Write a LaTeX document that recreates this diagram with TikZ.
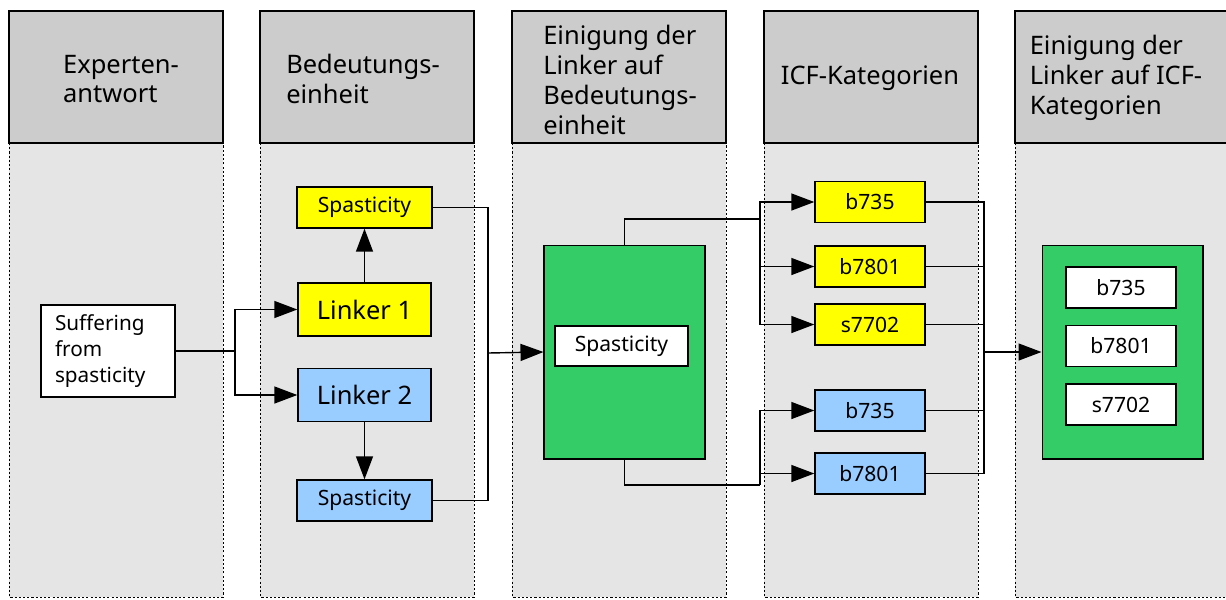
\documentclass[tikz,border=0pt]{standalone}
\usepackage{fontspec}
\setmainfont{Noto Sans}
\usetikzlibrary{arrows.meta}
\definecolor{colhead}{HTML}{CCCCCC}
\definecolor{colbody}{HTML}{E5E5E5}
\definecolor{lgreen}{HTML}{33CC66}
\definecolor{lyellow}{HTML}{FFFF00}
\definecolor{lblue}{HTML}{99CCFF}
\tikzset{
  hdr/.style={align=left, font=\fontsize{14.5}{17}\selectfont},
  box/.style={draw, line width=0.8pt, inner sep=0pt, font=\fontsize{12}{14}\selectfont},
  linkbox/.style={box, minimum width=2.66cm, minimum height=1.06cm, font=\fontsize{14.5}{17}\selectfont},
  spbox/.style={box, minimum width=2.7cm, minimum height=0.82cm},
  icfbox/.style={box, minimum width=2.2cm, minimum height=0.82cm, font=\fontsize{12}{14}\selectfont},
  bigbox/.style={draw, line width=0.6pt, fill=lgreen, minimum width=3.22cm, minimum height=4.28cm},
  conn/.style={line width=0.8pt},
  arr/.style={conn, -{Triangle[length=0.46cm,width=0.34cm]}}
}
\begin{document}
\begin{tikzpicture}[x=0.02cm, y=-0.02cm]
  \useasboundingbox (0,0) rectangle (1226,599);
  % columns
  \draw[fill=colbody, densely dashed, dash pattern=on 1.2pt off 1.2pt] (9,143) rectangle (223,597);
  \draw[fill=colbody, densely dashed, dash pattern=on 1.2pt off 1.2pt] (260,143) rectangle (474,597);
  \draw[fill=colbody, densely dashed, dash pattern=on 1.2pt off 1.2pt] (512,143) rectangle (726,597);
  \draw[fill=colbody, densely dashed, dash pattern=on 1.2pt off 1.2pt] (764,143) rectangle (978,597);
  \draw[fill=colbody, densely dashed, dash pattern=on 1.2pt off 1.2pt] (1015,143) rectangle (1232,597);
  \draw[fill=colhead, line width=0.6pt] (9,11) rectangle (223,143);
  \draw[fill=colhead, line width=0.6pt] (260,11) rectangle (474,143);
  \draw[fill=colhead, line width=0.6pt] (512,11) rectangle (726,143);
  \draw[fill=colhead, line width=0.6pt] (764,11) rectangle (978,143);
  \draw[fill=colhead, line width=0.6pt] (1015,11) rectangle (1232,143);
  \node[hdr] (h1) at (121,79) {Experten-\\antwort};
  \node[hdr] (h2) at (363,79) {Bedeutungs-\\einheit};
  \node[hdr] (h3) at (620,80) {Einigung der\\Linker auf\\Bedeutungs-\\einheit};
  \node[hdr] (h4) at (870,78) {ICF-Kategorien};
  \node[hdr] (h5) at (1116,78) {Einigung der\\Linker auf ICF-\\Kategorien};

  % Expertenantwort
  \node[box, fill=white, minimum width=2.68cm, minimum height=1.84cm, text width=2.12cm,
        inner xsep=0.28cm, align=left, font=\fontsize{11.8}{14.7}\selectfont]
        (suff) at (108,351) {Suffering\\from\\spasticity};

  % Bedeutungseinheit
  \node[spbox, fill=lyellow] (sp1) at (364.5,207.5) {Spasticity};
  \node[linkbox, fill=lyellow] (lk1) at (364.5,309.5) {Linker 1};
  \node[linkbox, fill=lblue] (lk2) at (364.5,395) {Linker 2};
  \node[spbox, fill=lblue] (sp2) at (364.5,500.5) {Spasticity};

  % Einigung auf Bedeutungseinheit
  \node[bigbox] (grn1) at (624.5,352) {};
  \node[box, fill=white, line width=0.6pt, minimum width=2.66cm, minimum height=0.8cm] (sp3) at (621.5,346) {Spasticity};

  % ICF-Kategorien
  \node[icfbox, fill=lyellow] (c1) at (870,202) {b735};
  \node[icfbox, fill=lyellow] (c2) at (870,266.5) {b7801};
  \node[icfbox, fill=lyellow] (c3) at (870,324.5) {s7702};
  \node[icfbox, fill=lblue] (c4) at (870,410.5) {b735};
  \node[icfbox, fill=lblue] (c5) at (870,473.5) {b7801};

  % Einigung auf ICF-Kategorien
  \node[bigbox] (grn2) at (1122.5,352) {};
  \node[icfbox, fill=white] (e1) at (1121,287.5) {b735};
  \node[icfbox, fill=white] (e2) at (1121,346) {b7801};
  \node[icfbox, fill=white] (e3) at (1121,404.5) {s7702};

  % connectors
  \coordinate (j1) at (235,351);
  \coordinate (j2) at (488,353);
  \coordinate (j3) at (760,219);
  \coordinate (j4) at (760,485);
  \coordinate (j5) at (984,352);
  \draw[conn] (suff.east) -- (j1);
  \draw[arr] (j1) |- (lk1.west);
  \draw[arr] (j1) |- (lk2.west);
  \draw[arr] (lk1) -- (sp1);
  \draw[arr] (lk2) -- (sp2);
  \draw[conn] (sp1.east) -| (j2);
  \draw[conn] (sp2.east) -| (j2);
  \draw[arr] (j2) -- (grn1.west);
  \draw[conn] (grn1.north) |- (j3);
  \draw[arr] (j3) |- (c1.west);
  \draw[arr] (j3) |- (c2.west);
  \draw[arr] (j3) |- (c3.west);
  \draw[conn] (grn1.south) |- (j4);
  \draw[arr] (j4) |- (c4.west);
  \draw[arr] (j4) |- (c5.west);
  \draw[conn] (c1.east) -| (j5);
  \draw[conn] (c2.east) -| (j5);
  \draw[conn] (c3.east) -| (j5);
  \draw[conn] (c4.east) -| (j5);
  \draw[conn] (c5.east) -| (j5);
  \draw[arr] (j5) -- (grn2.west);
\end{tikzpicture}
\end{document}
